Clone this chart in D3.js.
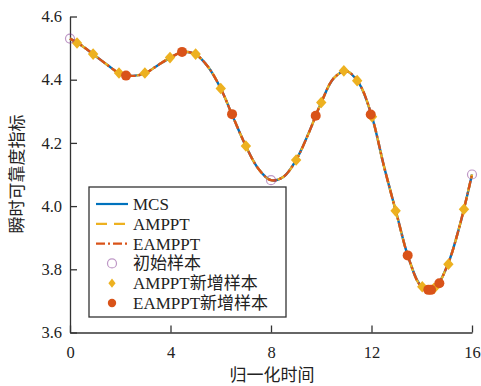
<!DOCTYPE html>
<html><head><meta charset="utf-8">
<script src="https://cdn.jsdelivr.net/npm/d3@7/dist/d3.min.js"></script>
<style>body{margin:0;background:#fff}svg{display:block}</style>
</head><body><svg id="c" width="481" height="386"></svg>
<script>
const curveT = [0,0.5,1,1.5,2,2.5,3,3.5,4,4.5,5,5.5,6,6.5,7,7.5,8,8.5,9,9.5,10,10.5,11,11.5,12,12.5,13,13.5,14,14.5,15,15.5,16];
const curveY = [4.53,4.506,4.476,4.446,4.419,4.412,4.421,4.446,4.47,4.488,4.48,4.44,4.372,4.28,4.19,4.118,4.082,4.093,4.146,4.231,4.328,4.405,4.427,4.389,4.288,4.125,3.975,3.83,3.745,3.74,3.808,3.935,4.1];
const initT = [0,8,16];
const initY = [4.53,4.082,4.1];
const ampT = [0.28,0.92,1.95,2.98,3.98,5.0,6.0,7.0,9.0,10.0,10.9,11.43,12.02,12.96,14.02,14.49,15.06,15.68];
const ampY = [4.516,4.481,4.421,4.421,4.47,4.481,4.372,4.19,4.146,4.328,4.428,4.397,4.283,3.985,3.745,3.74,3.816,3.99];
const eamT = [2.23,4.46,6.45,9.78,11.97,13.44,14.26,14.37,14.7];
const eamY = [4.413,4.488,4.291,4.286,4.29,3.844,3.735,3.735,3.756];
const xTicks = [0,4,8,12,16];
const yTicks = [3.6,3.8,4.0,4.2,4.4,4.6];
const legendLabels = ["MCS","AMPPT","EAMPPT","初始样本","AMPPT新增样本","EAMPPT新增样本"];

const C = {mcs:"#0072BD", amp:"#EDB120", eam:"#D95319", init:"#7E2F8E"};
const FONT = "'Liberation Serif','Noto Sans CJK SC',serif";
const svg = d3.select("#c");
const x = d3.scaleLinear().domain([0,16]).range([70,472]);
const y = d3.scaleLinear().domain([3.6,4.6]).range([332.5,16.5]);

// axes
const gx = svg.append("g").attr("transform","translate(0,332.5)")
  .call(d3.axisBottom(x).tickValues(xTicks).tickSizeInner(-7).tickSizeOuter(0).tickPadding(14).tickFormat(d3.format("d")));
const gy = svg.append("g").attr("transform","translate(70,0)")
  .call(d3.axisLeft(y).tickValues(yTicks).tickSizeInner(-7).tickSizeOuter(0).tickPadding(8).tickFormat(d3.format(".1f")));
[gx,gy].forEach(g=>{
  g.selectAll("path,line").attr("stroke","#333").attr("stroke-width",1.3);
  g.selectAll("text").attr("font-family",FONT).attr("font-size",16.5).attr("fill","#222");
});

const pts = curveT.map((t,i)=>[t,curveY[i]]);
const line = d3.line().x(d=>x(d[0])).y(d=>y(d[1])).curve(d3.curveCatmullRom.alpha(0.5));
svg.append("path").attr("d",line(pts)).attr("fill","none").attr("stroke",C.mcs).attr("stroke-width",2.4);
svg.append("path").attr("d",line(pts)).attr("fill","none").attr("stroke",C.amp).attr("stroke-width",2.4).attr("stroke-dasharray","8,5");
svg.append("path").attr("d",line(pts)).attr("fill","none").attr("stroke",C.eam).attr("stroke-width",2.4).attr("stroke-dasharray","9,3,2,3");

// markers
const diamondPath = (w,h)=>`M0,${-h}L${w},0L0,${h}L${-w},0Z`;
svg.append("g").selectAll("path").data(ampT.map((t,i)=>[t,ampY[i]])).join("path")
  .attr("d",diamondPath(5.2,5.8)).attr("transform",d=>`translate(${x(d[0])},${y(d[1])})`)
  .attr("fill",C.amp);
svg.append("g").selectAll("circle").data(eamT.map((t,i)=>[t,eamY[i]])).join("circle")
  .attr("cx",d=>x(d[0])).attr("cy",d=>y(d[1])).attr("r",5).attr("fill",C.eam);
svg.append("g").selectAll("circle").data(initT.map((t,i)=>[t,initY[i]])).join("circle")
  .attr("cx",d=>x(d[0])).attr("cy",d=>y(d[1])).attr("r",4.5).attr("fill","none")
  .attr("stroke",C.init).attr("stroke-opacity",0.5).attr("stroke-width",1.2);

// legend
const lg = svg.append("g");
lg.append("rect").attr("x",89).attr("y",187).attr("width",197).attr("height",130)
  .attr("fill","#fff").attr("stroke","#333").attr("stroke-width",1.3);
legendLabels.forEach((lab,i)=>{
  const cy = 204 + i*19.8;
  if(i===0) lg.append("line").attr("x1",96).attr("x2",128).attr("y1",cy).attr("y2",cy).attr("stroke",C.mcs).attr("stroke-width",2.2);
  if(i===1) lg.append("line").attr("x1",96).attr("x2",128).attr("y1",cy).attr("y2",cy).attr("stroke",C.amp).attr("stroke-width",2.2).attr("stroke-dasharray","11,7");
  if(i===2) lg.append("line").attr("x1",96).attr("x2",128).attr("y1",cy).attr("y2",cy).attr("stroke",C.eam).attr("stroke-width",2.2).attr("stroke-dasharray","9,3,2,3");
  if(i===3) lg.append("circle").attr("cx",112).attr("cy",cy).attr("r",4.5).attr("fill","none").attr("stroke",C.init).attr("stroke-opacity",0.5).attr("stroke-width",1.2);
  if(i===4) lg.append("path").attr("d",diamondPath(3.6,4.6)).attr("transform",`translate(112,${cy})`).attr("fill",C.amp);
  if(i===5) lg.append("circle").attr("cx",112).attr("cy",cy).attr("r",4.2).attr("fill",C.eam);
  lg.append("text").attr("x",133).attr("y",cy+6).text(lab)
    .attr("font-family",FONT).attr("font-size",17).attr("fill","#222");
});

// axis titles
svg.append("text").attr("x",272).attr("y",381).attr("text-anchor","middle").text("归一化时间")
  .attr("font-family",FONT).attr("font-size",17).attr("fill","#222");
svg.append("text").attr("transform","translate(23,174) rotate(-90)").attr("text-anchor","middle").text("瞬时可靠度指标")
  .attr("font-family",FONT).attr("font-size",17).attr("fill","#222");
</script></body></html>
